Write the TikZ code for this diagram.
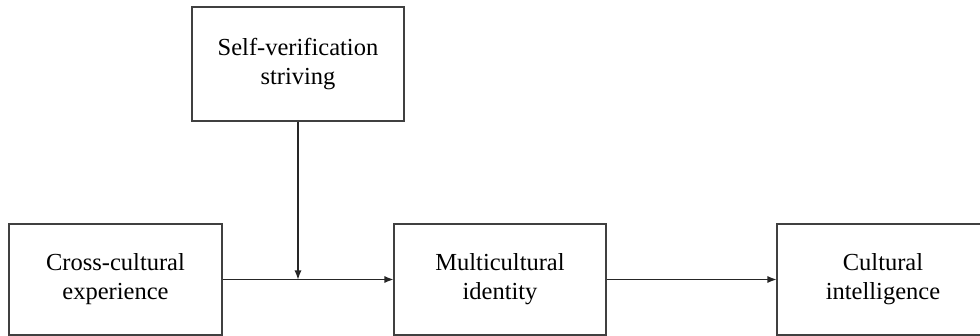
\documentclass[tikz,border=0pt]{standalone}
\usepackage{fontspec}
\setmainfont{Liberation Serif}
\usepackage{tikz}
\usetikzlibrary{positioning, arrows.meta}

\tikzset{
    varbox/.style={rectangle, draw=black!75, line width=0.55pt, align=center, minimum width=106pt, minimum height=55.5pt, inner sep=0pt, font=\fontsize{12.25}{14.5}\selectfont},
    arr/.style={draw=black!85, line width=0.55pt, -{Latex[length=4.5pt, width=3.5pt]}}
}

\begin{document}
\begin{tikzpicture}[x=0.5pt, y=-0.5pt]
            \path[use as bounding box, clip] (0, 0) rectangle (980, 336);
            \node[varbox, minimum height=57pt] (sv) at (298, 64) {Self-verification\\striving};
            \node[varbox, minimum width=106.5pt] (cce) at (115.5, 279.5) {Cross-cultural\\experience};
            \node[varbox] (mi) at (500, 279.5) {Multicultural\\identity};
            \node[varbox] (ci) at (883, 279.5) {Cultural\\intelligence};
            \coordinate (mod) at (sv.south |- cce.east);

            \draw[arr] (cce) -- (mi);
            \draw[arr] (sv) -- (mod);
            \draw[arr] (mi) -- (ci);
        \end{tikzpicture}
\end{document}
